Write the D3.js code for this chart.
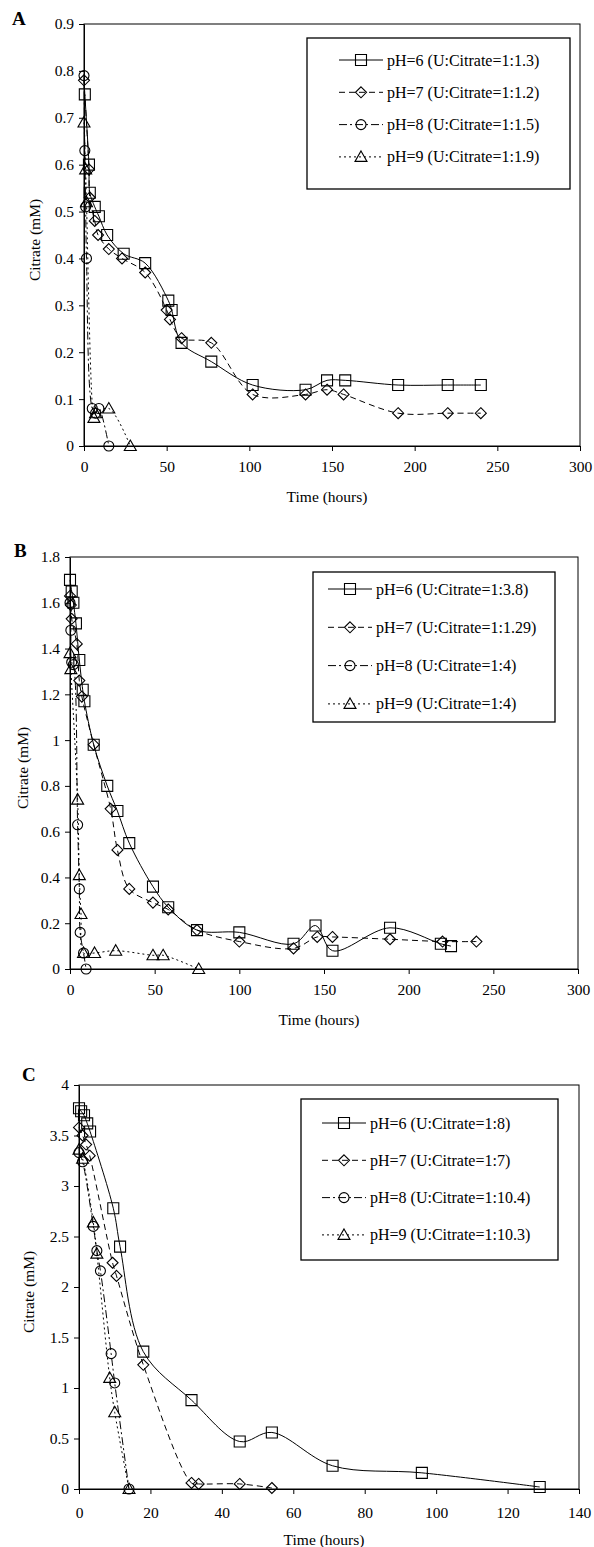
<!DOCTYPE html>
<html>
<head>
<meta charset="utf-8">
<script src="https://cdn.jsdelivr.net/npm/d3@7"></script>
<style>
body { margin: 0; background: #fff; }
svg { display: block; }
text { font-family: "Liberation Serif", "Times New Roman", serif; fill: #000; }
</style>
</head>
<body>
<svg width="594" height="1547"></svg>
<script>
// ---- data: [time (h), citrate (mM)] ----
const a6 = [[0.5,0.75],[3,0.60],[3.5,0.54],[6.5,0.51],[9,0.49],[14,0.45],[24,0.41],[37,0.39],[51,0.31],[53,0.29],[59,0.22],[77,0.18],[102,0.13],[134,0.12],[147,0.14],[158,0.14],[190,0.13],[220,0.13],[240,0.13]];
const a7 = [[0,0.78],[3,0.59],[3.5,0.53],[6.5,0.48],[8.5,0.45],[15,0.42],[23,0.40],[37,0.37],[50,0.29],[52,0.27],[59,0.23],[77,0.22],[102,0.11],[134,0.11],[147,0.12],[157,0.11],[190,0.07],[220,0.07],[240,0.07]];
const a8 = [[0,0.79],[0.5,0.63],[1,0.51],[1.5,0.40],[5,0.08],[7,0.07],[9,0.08],[15,0]];
const a9 = [[0,0.69],[1,0.59],[1.5,0.52],[6,0.06],[7,0.07],[15,0.08],[28,0]];

const b6 = [[0,1.70],[1,1.65],[2,1.60],[3.5,1.51],[5.5,1.35],[7.5,1.22],[8.5,1.17],[14,0.98],[22,0.80],[28,0.69],[35,0.55],[49,0.36],[58,0.27],[75,0.17],[100,0.16],[132,0.11],[145,0.19],[155,0.08],[189,0.18],[219,0.11],[225,0.10]];
const b7 = [[0,1.63],[0.5,1.59],[1,1.53],[4,1.42],[5.5,1.26],[7,1.19],[14,0.98],[24,0.70],[28,0.52],[35,0.35],[49,0.29],[58,0.26],[75,0.17],[100,0.12],[132,0.09],[146,0.14],[155,0.14],[189,0.13],[220,0.12],[240,0.12]];
const b8 = [[0,1.60],[0.5,1.48],[1,1.34],[2,1.33],[4.5,0.63],[5.5,0.35],[6,0.16],[8,0.07],[9.5,0]];
const b9 = [[0,1.38],[0.5,1.31],[4.5,0.74],[5.5,0.41],[6.5,0.24],[8,0.07],[14.5,0.07],[27,0.08],[49,0.06],[55,0.06],[76,0]];

const c6 = [[0,3.77],[0.6,3.74],[1.4,3.70],[2.3,3.62],[3.1,3.54],[9.6,2.78],[11.5,2.40],[18,1.36],[31.5,0.88],[45,0.47],[54,0.56],[71,0.23],[96,0.16],[129,0.02]];
const c7 = [[0,3.58],[1,3.50],[2,3.41],[3,3.30],[9.4,2.24],[10.5,2.11],[18,1.23],[31.5,0.06],[33.5,0.05],[45,0.05],[54,0.01]];
const c8 = [[0,3.33],[1,3.24],[4,2.60],[5,2.36],[6,2.16],[9,1.34],[10,1.05],[14,0]];
const c9 = [[0,3.36],[1,3.27],[4,2.64],[5,2.33],[8.6,1.10],[10,0.76],[14,0]];

const legendA = ["pH=6 (U:Citrate=1:1.3)", "pH=7 (U:Citrate=1:1.2)", "pH=8 (U:Citrate=1:1.5)", "pH=9 (U:Citrate=1:1.9)"];
const legendB = ["pH=6 (U:Citrate=1:3.8)", "pH=7 (U:Citrate=1:1.29)", "pH=8 (U:Citrate=1:4)", "pH=9 (U:Citrate=1:4)"];
const legendC = ["pH=6 (U:Citrate=1:8)", "pH=7 (U:Citrate=1:7)", "pH=8 (U:Citrate=1:10.4)", "pH=9 (U:Citrate=1:10.3)"];

const xTicksAB = [0, 50, 100, 150, 200, 250, 300];
const xTicksC = [0, 20, 40, 60, 80, 100, 120, 140];
const yTicksA = [0, 0.1, 0.2, 0.3, 0.4, 0.5, 0.6, 0.7, 0.8, 0.9];
const yTicksB = [0, 0.2, 0.4, 0.6, 0.8, 1, 1.2, 1.4, 1.6, 1.8];
const yTicksC = [0, 0.5, 1, 1.5, 2, 2.5, 3, 3.5, 4];

// ---- styles per series (pH 6..9) ----
const dashes = [null, "6,4", "8,3,2,3", "2,3"];
const markers = ["square", "diamond", "circle", "triangle"];

const svg = d3.select("svg");

function markerPath(type) {
	const s = 5.5;
	if (type === "square") return `M${-s},${-s}H${s}V${s}H${-s}Z`;
	if (type === "diamond") return `M0,${-s}L${s},0L0,${s}L${-s},0Z`;
	if (type === "triangle") return `M0,${-s - 0.5}L${s + 0.5},${s - 1}L${-s - 0.5},${s - 1}Z`;
	return d3.arc()({innerRadius: 0, outerRadius: 5, startAngle: 0, endAngle: 2 * Math.PI});
}

function drawPanel(p) {
	const x = d3.scaleLinear().domain([0, p.xMax]).range([p.left, p.right]);
	const y = d3.scaleLinear().domain([0, p.yMax]).range([p.bottom, p.top]);

	const g = svg.append("g");

	// plot frame
	g.append("rect")
		.attr("x", p.left).attr("y", p.top)
		.attr("width", p.right - p.left).attr("height", p.bottom - p.top)
		.attr("fill", "none").attr("stroke", "#000").attr("stroke-width", 1);

	const xAxis = g.append("g")
		.attr("transform", `translate(0,${p.bottom})`)
		.call(d3.axisBottom(x).tickValues(p.xTicks).tickSize(5).tickSizeOuter(0).tickPadding(p.xPad));
	const yAxis = g.append("g")
		.attr("transform", `translate(${p.left},0)`)
		.call(d3.axisLeft(y).tickValues(p.yTicks).tickFormat(d3.format("~g")).tickSize(5).tickSizeOuter(0).tickPadding(5));
	[xAxis, yAxis].forEach(ax => {
		ax.select(".domain").attr("stroke", "#000");
		ax.selectAll(".tick line").attr("stroke", "#000");
		ax.selectAll(".tick text").attr("font-size", 15.5).attr("fill", "#000")
			.attr("font-family", "Liberation Serif");
	});

	g.append("text")
		.attr("x", (p.left + p.right) / 2 - 5)
		.attr("y", p.bottom + 56)
		.attr("text-anchor", "middle").attr("font-size", 15.5)
		.text("Time (hours)");

	g.append("text")
		.attr("transform", `translate(${p.yTitleX},${(p.top + p.bottom) / 2 + 5}) rotate(-90)`)
		.attr("text-anchor", "middle").attr("font-size", 15.5)
		.text("Citrate (mM)");

	g.append("text")
		.attr("x", p.letterX).attr("y", p.letterY)
		.attr("font-size", 19).attr("font-weight", "bold")
		.text(p.letter);

	const line = d3.line()
		.x(d => x(d[0])).y(d => y(d[1]))
		.curve(d3.curveCatmullRom.alpha(0.5));

	p.series.forEach((s, i) => {
		g.append("path")
			.attr("d", line(s))
			.attr("fill", "none").attr("stroke", "#000").attr("stroke-width", 1)
			.attr("stroke-dasharray", dashes[i]);
		g.selectAll(null)
			.data(s)
			.join("path")
				.attr("transform", d => `translate(${x(d[0])},${y(d[1])})`)
				.attr("d", markerPath(markers[i]))
				.attr("fill", "none").attr("stroke", "#000").attr("stroke-width", 1.1);
	});

	// legend
	const L = p.legend;
	const lg = g.append("g");
	lg.append("rect")
		.attr("x", L.x).attr("y", L.y).attr("width", L.w).attr("height", L.h)
		.attr("fill", "#fff").attr("stroke", "#000").attr("stroke-width", 1.3);
	p.labels.forEach((lab, i) => {
		const cy = L.y + L.first + i * L.step;
		lg.append("line")
			.attr("x1", L.symX).attr("x2", L.symX + 44)
			.attr("y1", cy).attr("y2", cy)
			.attr("stroke", "#000").attr("stroke-width", 1)
			.attr("stroke-dasharray", dashes[i]);
		lg.append("path")
			.attr("transform", `translate(${L.symX + 22},${cy})`)
			.attr("d", markerPath(markers[i]))
			.attr("fill", "none").attr("stroke", "#000").attr("stroke-width", 1.1);
		lg.append("text")
			.attr("x", L.symX + 48).attr("y", cy + 5.5)
			.attr("font-size", 16)
			.text(lab);
	});
}

drawPanel({
	letter: "A", letterX: 12, letterY: 25,
	left: 84, right: 580, top: 24, bottom: 446,
	xMax: 300, yMax: 0.9, xTicks: xTicksAB, yTicks: yTicksA, yTitleX: 40, xPad: 10,
	series: [a6, a7, a8, a9], labels: legendA,
	legend: {x: 307, y: 38, w: 263, h: 151, first: 22, step: 32.3, symX: 339}
});

drawPanel({
	letter: "B", letterX: 14, letterY: 557,
	left: 70, right: 578, top: 557, bottom: 969,
	xMax: 300, yMax: 1.8, xTicks: xTicksAB, yTicks: yTicksB, yTitleX: 28, xPad: 10,
	series: [b6, b7, b8, b9], labels: legendB,
	legend: {x: 313, y: 572, w: 242, h: 150, first: 17, step: 38.3, symX: 328}
});

drawPanel({
	letter: "C", letterX: 22, letterY: 1081,
	left: 79, right: 579, top: 1085, bottom: 1489,
	xMax: 140, yMax: 4, xTicks: xTicksC, yTicks: yTicksC, yTitleX: 34, xPad: 13,
	series: [c6, c7, c8, c9], labels: legendC,
	legend: {x: 301, y: 1099, w: 257, h: 161, first: 24, step: 37.3, symX: 322}
});
</script>
</body>
</html>
